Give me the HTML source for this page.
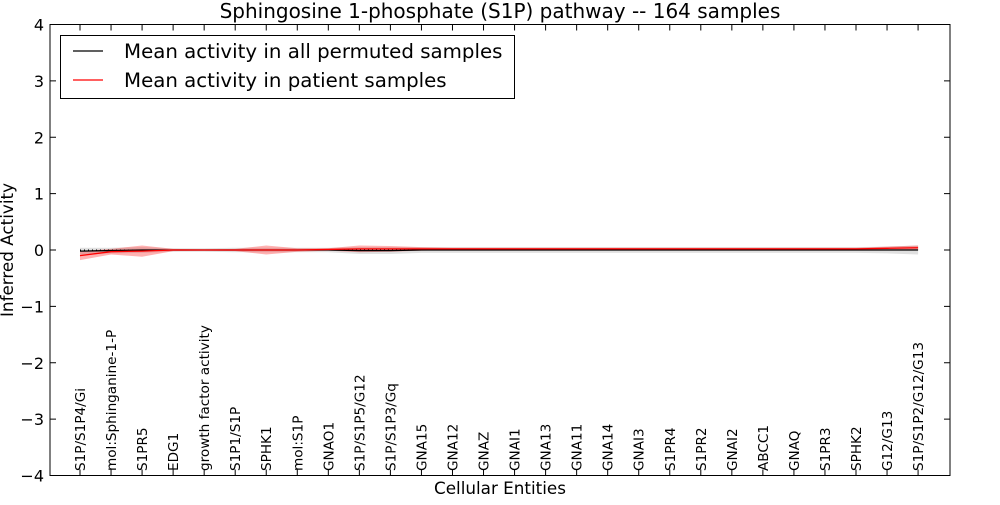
<!DOCTYPE html>
<html><head><meta charset="utf-8"><style>
body{margin:0;background:#fff}
svg{font-family:"DejaVu Sans","Liberation Sans",sans-serif}
</style></head><body>
<svg id="chart" width="1000" height="500" viewBox="0 0 1000 500">
<rect width="1000" height="500" fill="#fff"/>
<text x="500" y="18" text-anchor="middle" font-size="20">Sphingosine 1-phosphate (S1P) pathway -- 164 samples</text>
<g id="bands"></g><g id="lines"></g><g id="axes"></g>
<text x="500" y="494" text-anchor="middle" font-size="16.8">Cellular Entities</text>
<text transform="translate(13,250) rotate(-90)" text-anchor="middle" font-size="16.8">Inferred Activity</text>
<g>
<rect x="60.5" y="35.5" width="454" height="63" fill="#fff" stroke="#000" stroke-width="1"/>
<line x1="73" y1="51" x2="103" y2="51" stroke="#000" stroke-width="1.2"/>
<text x="124" y="58" font-size="19.8">Mean activity in all permuted samples</text>
<line x1="73" y1="80" x2="103" y2="80" stroke="#f00" stroke-width="1.2"/>
<text x="124" y="87" font-size="19.8">Mean activity in patient samples</text>
</g>
</svg>
<script>
const categories=["S1P/S1P4/Gi","mol:Sphinganine-1-P","S1PR5","EDG1","growth factor activity","S1P1/S1P","SPHK1","mol:S1P","GNAO1","S1P/S1P5/G12","S1P/S1P3/Gq","GNA15","GNA12","GNAZ","GNAI1","GNA13","GNA11","GNA14","GNAI3","S1PR4","S1PR2","GNAI2","ABCC1","GNAQ","S1PR3","SPHK2","G12/G13","S1P/S1P2/G12/G13"];
const patientMean=[-0.1,-0.03,-0.02,0,0,0,0,0,0.01,0.02,0.02,0.02,0.02,0.02,0.02,0.02,0.02,0.02,0.02,0.02,0.02,0.02,0.02,0.02,0.02,0.02,0.03,0.04];
const patientSpread=[0.08,0.05,0.1,0.02,0.01,0.02,0.08,0.03,0.02,0.06,0.05,0.03,0.02,0.02,0.02,0.02,0.02,0.02,0.02,0.02,0.02,0.02,0.02,0.02,0.02,0.02,0.03,0.04];
const permMean=[-0.02,-0.01,0,0,0,0,0,0,0,-0.01,-0.01,0,0,0,0,0,0,0,0,0,0,0,0,0,0,0,0,0];
const permSpread=[0.06,0.05,0.05,0.03,0.03,0.04,0.04,0.04,0.04,0.06,0.06,0.05,0.05,0.05,0.05,0.05,0.05,0.05,0.05,0.05,0.05,0.05,0.05,0.05,0.05,0.05,0.06,0.08];
const yTicks=[-4,-3,-2,-1,0,1,2,3,4];
const L=50,R=950,T=24.5,B=475.5;
const x=i=>80+i*31.04;
const y=v=>T+(4-v)*(B-T)/8;
const NS="http://www.w3.org/2000/svg";
function mk(tag,attrs,parent){const e=document.createElementNS(NS,tag);for(const k in attrs)e.setAttribute(k,attrs[k]);document.getElementById(parent).appendChild(e);return e;}
function band(m,s){let up=m.map((v,i)=>x(i)+","+y(v+s[i]));let dn=m.map((v,i)=>x(i)+","+y(v-s[i])).reverse();return up.concat(dn).join(" ");}
const b1=mk("polygon",{points:band(permMean,permSpread),fill:"#999",opacity:0.3},"bands");


const b2=mk("polygon",{points:band(patientMean,patientSpread),fill:"#f00",opacity:0.3},"bands");


const z=mk("line",{x1:x(0),x2:x(categories.length-1),y1:y(0),y2:y(0),stroke:"#000","stroke-dasharray":"1,3","stroke-width":1},"lines");


const l1=mk("polyline",{points:permMean.map((v,i)=>x(i)+","+y(v)).join(" "),fill:"none",stroke:"#000","stroke-width":1.3},"lines");


const l2=mk("polyline",{points:patientMean.map((v,i)=>x(i)+","+y(v)).join(" "),fill:"none",stroke:"#f00","stroke-width":1.3},"lines");


const fr=mk("rect",{x:L,y:T,width:R-L,height:B-T,fill:"none",stroke:"#000","stroke-width":1},"axes");


yTicks.forEach(v=>{
 mk("line",{x1:L,x2:L+6,y1:y(v),y2:y(v),stroke:"#000"},"axes");
 mk("line",{x1:R-6,x2:R,y1:y(v),y2:y(v),stroke:"#000"},"axes");
 const t=mk("text",{x:L-6,y:y(v)+6,"text-anchor":"end","font-size":16},"axes");
 t.textContent=(v<0?"\u2212"+(-v):String(v));
 
 
});
categories.forEach((c,i)=>{
 mk("line",{x1:x(i),x2:x(i),y1:B,y2:B-6,stroke:"#000"},"axes");
 mk("line",{x1:x(i),x2:x(i),y1:T,y2:T+6,stroke:"#000"},"axes");
 const t=mk("text",{transform:`translate(${x(i)+5},471) rotate(-90)`,"font-size":13.6},"axes");
 t.textContent=c;
 
 
});
</script>
</body></html>
